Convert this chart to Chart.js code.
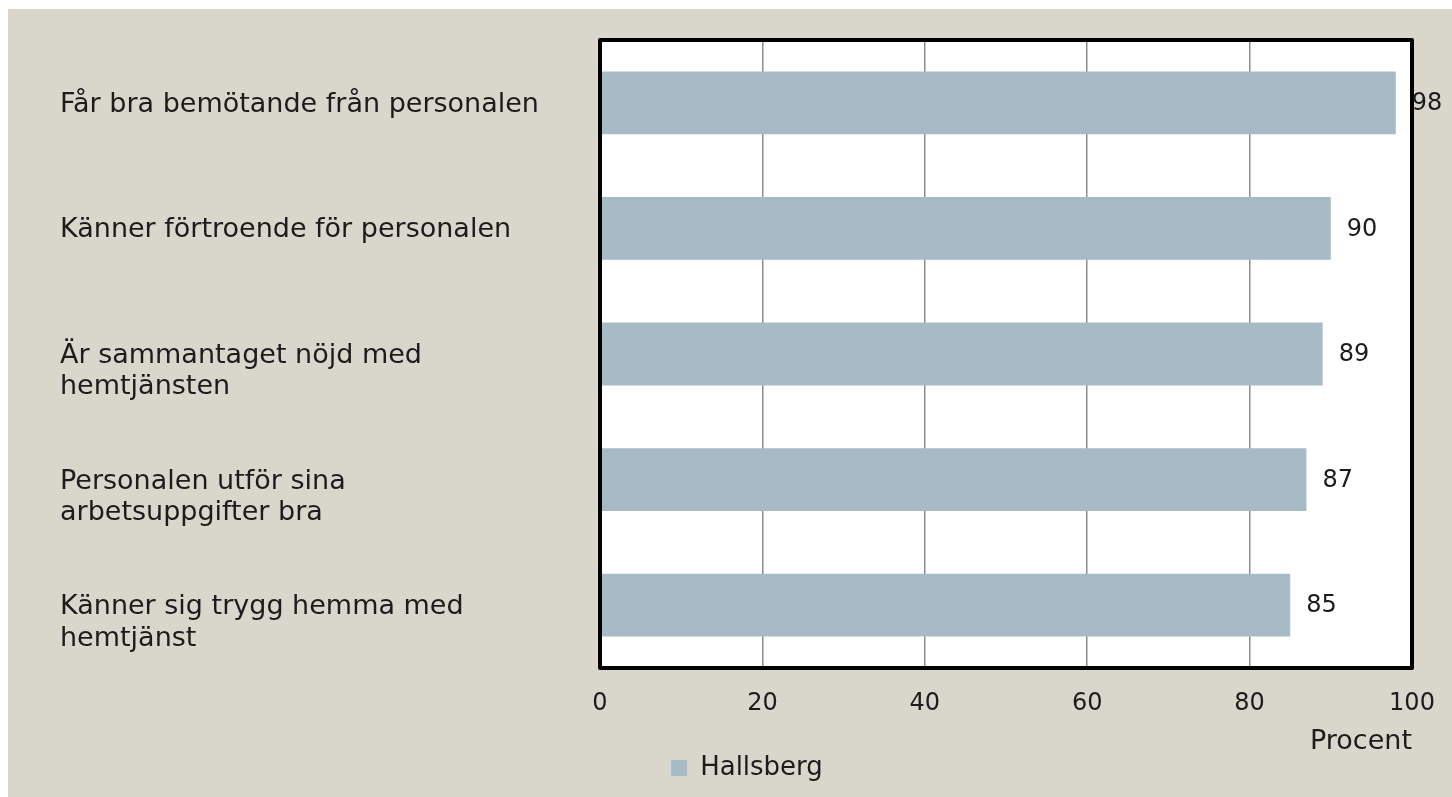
<!DOCTYPE html>
<html lang="sv">
<head>
<meta charset="utf-8">
<title>Hallsberg - hemtjänst</title>
<script src="https://cdn.jsdelivr.net/npm/chart.js@4.4.1/dist/chart.umd.min.js"></script>
<style>
    html, body { margin: 0; padding: 0; background: #fff; }
    #chart-box {
        position: absolute;
        left: 8px;
        top: 9px;
        width: 1444px;
        height: 788px;
        background: #d9d7cb;
    }
    #hemtjanst-chart { display: block; }
</style>
</head>
<body>
<div id="chart-box">
    <canvas id="hemtjanst-chart" width="1444" height="788"></canvas>
</div>
<script>
const categories = [
    ['Får bra bemötande från personalen'],
    ['Känner förtroende för personalen'],
    ['Är sammantaget nöjd med', 'hemtjänsten'],
    ['Personalen utför sina', 'arbetsuppgifter bra'],
    ['Känner sig trygg hemma med', 'hemtjänst'],
];
const hallsbergValues = [98, 90, 89, 87, 85];
const xTicks = [0, 20, 40, 60, 80, 100];

const FONT = "'DejaVu Sans', 'Liberation Sans', sans-serif";
const TEXT_COLOR = '#1c1c1c';
const BAR_COLOR = '#a7bbc6';

// white plot background + thick black frame round the plot
const plotFrame = {
    id: 'plotFrame',
    beforeDraw(chart) {
        const { ctx, chartArea: a } = chart;
        ctx.save();
        ctx.fillStyle = '#fff';
        ctx.fillRect(a.left, a.top, a.right - a.left, a.bottom - a.top);
        ctx.restore();
    },
    afterDraw(chart) {
        const { ctx, chartArea: a } = chart;
        ctx.save();
        ctx.strokeStyle = '#000';
        ctx.lineWidth = 4;
        ctx.lineJoin = 'round';
        ctx.strokeRect(a.left, a.top, a.right - a.left, a.bottom - a.top);
        ctx.restore();
    },
};

// value next to the end of each bar
const barValues = {
    id: 'barValues',
    afterDraw(chart) {
        const { ctx } = chart;
        ctx.save();
        ctx.font = `24px ${FONT}`;
        ctx.fillStyle = TEXT_COLOR;
        ctx.textAlign = 'left';
        ctx.textBaseline = 'middle';
        chart.data.datasets.forEach((ds, di) => {
            chart.getDatasetMeta(di).data.forEach((bar, i) => {
                ctx.fillText(String(ds.data[i]), bar.x + 16, bar.y + 1);
            });
        });
        ctx.restore();
    },
};

const ctx = document.getElementById('hemtjanst-chart').getContext('2d');

const chart = new Chart(ctx, {
    type: 'bar',
    data: {
        labels: categories,
        datasets: [
            {
                label: 'Hallsberg',
                data: hallsbergValues,
                backgroundColor: BAR_COLOR,
                borderWidth: 0,
                barPercentage: 1,
                categoryPercentage: 0.5,
            },
        ],
    },
    options: {
        indexAxis: 'y',
        responsive: false,
        animation: false,
        layout: { padding: { left: 52, right: 18, top: 31, bottom: 6 } },
        scales: {
            x: {
                min: 0,
                max: 100,
                afterBuildTicks: (scale) => {
                    scale.ticks = xTicks.map(v => ({ value: v }));
                },
                afterFit: (scale) => {
                    scale.height = 87;
                    scale.paddingLeft = 0;
                    scale.paddingRight = 40;
                },
                grid: { color: '#8c8c8c', lineWidth: 1.5, drawTicks: false },
                border: { display: false },
                ticks: {
                    padding: 21,
                    color: TEXT_COLOR,
                    font: { family: FONT, size: 24 },
                },
                title: {
                    display: true,
                    text: 'Procent',
                    align: 'end',
                    color: TEXT_COLOR,
                    font: { family: FONT, size: 27, lineHeight: 1 },
                    padding: { top: 0, bottom: 0 },
                },
            },
            y: {
                afterFit: (scale) => {
                    scale.width = 540;
                    scale.paddingTop = 31;
                    scale.paddingBottom = 0;
                },
                grid: { display: false, drawTicks: false },
                border: { display: false },
                ticks: {
                    crossAlign: 'far',
                    labelOffset: 2,
                    color: TEXT_COLOR,
                    font: { family: FONT, size: 27, lineHeight: 1.165 },
                    // wrapped labels start on the bar's centre line, like the original
                    callback: (value, i) => categories[i].length > 1 ? ['', ...categories[i]] : categories[i],
                },
            },
        },
        plugins: {
            legend: {
                position: 'bottom',
                labels: {
                    boxWidth: 16,
                    boxHeight: 16,
                    padding: 0,
                    color: TEXT_COLOR,
                    font: { family: FONT, size: 26 },
                },
            },
            tooltip: { enabled: false },
        },
    },
    plugins: [plotFrame, barValues],
});
</script>
</body>
</html>
